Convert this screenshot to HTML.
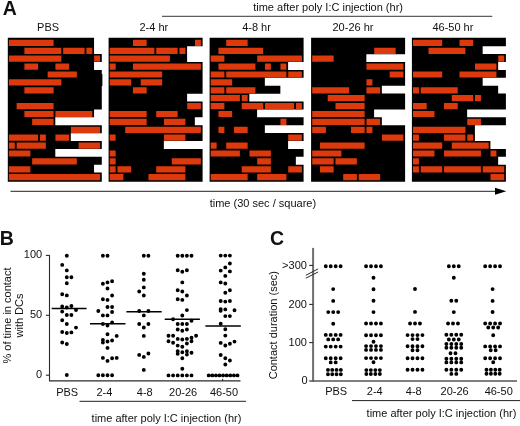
<!DOCTYPE html>
<html><head><meta charset="utf-8"><title>Figure</title>
<style>
html,body{margin:0;padding:0;background:#fff}
svg{display:block}
text{font-family:'Liberation Sans', sans-serif;fill:#111}
</style></head><body>
<svg width="520" height="426" viewBox="0 0 520 426">
<rect width="520" height="426" fill="#fff"/>
<path fill="#000" d="M7.8 37.8h86.25v8.45h-86.25zM7.8 46.2h86.25v7.95h-86.25zM7.8 54.1h94v7.95h-94zM7.8 62h86.25v7.95h-86.25zM7.8 69.9h94v7.95h-94zM7.8 77.8h94v7.95h-94zM7.8 85.7h94v7.95h-94zM7.8 93.6h94v7.95h-94zM7.8 101.5h94v7.95h-94zM7.8 109.4h86.25v7.95h-86.25zM7.8 117.3h47.5v7.95h-47.5zM7.8 125.2h94v7.95h-94zM7.8 133.1h63v7.95h-63zM7.8 141h94v7.95h-94zM7.8 148.9h47.5v7.95h-47.5zM7.8 156.8h94v7.95h-94zM7.8 164.7h86.25v7.95h-86.25zM7.8 172.6h94v9.15h-94zM108.6 37.8h94v8.45h-94zM108.6 46.2h78.5v7.95h-78.5zM108.6 54.1h78.5v7.95h-78.5zM108.6 62h94v7.95h-94zM108.6 69.9h94v7.95h-94zM108.6 77.8h94v7.95h-94zM108.6 85.7h94v7.95h-94zM108.6 93.6h78.5v7.95h-78.5zM108.6 101.5h94v7.95h-94zM108.6 109.4h94v7.95h-94zM108.6 117.3h86.25v7.95h-86.25zM108.6 125.2h94v7.95h-94zM108.6 133.1h94v7.95h-94zM108.6 141h55.25v7.95h-55.25zM108.6 148.9h94v7.95h-94zM108.6 156.8h94v7.95h-94zM108.6 164.7h94v7.95h-94zM108.6 172.6h94v9.15h-94zM209.6 37.8h94v8.45h-94zM209.6 46.2h94v7.95h-94zM209.6 54.1h94v7.95h-94zM209.6 62h78.5v7.95h-78.5zM209.6 69.9h94v7.95h-94zM209.6 77.8h55.25v7.95h-55.25zM209.6 85.7h70.75v7.95h-70.75zM209.6 93.6h39.75v7.95h-39.75zM209.6 101.5h94v7.95h-94zM209.6 109.4h47.5v7.95h-47.5zM209.6 117.3h94v7.95h-94zM209.6 125.2h55.25v7.95h-55.25zM209.6 133.1h94v7.95h-94zM209.6 141h78.5v7.95h-78.5zM209.6 148.9h94v7.95h-94zM209.6 156.8h86.25v7.95h-86.25zM209.6 164.7h94v7.95h-94zM209.6 172.6h94v9.15h-94zM311.1 37.8h94v8.45h-94zM311.1 46.2h94v7.95h-94zM311.1 54.1h55.25v7.95h-55.25zM311.1 62h94v7.95h-94zM311.1 69.9h94v7.95h-94zM311.1 77.8h94v7.95h-94zM311.1 85.7h70.75v7.95h-70.75zM311.1 93.6h94v7.95h-94zM311.1 101.5h94v7.95h-94zM311.1 109.4h63v7.95h-63zM311.1 117.3h70.75v7.95h-70.75zM311.1 125.2h94v7.95h-94zM311.1 133.1h94v7.95h-94zM311.1 141h94v7.95h-94zM311.1 148.9h94v7.95h-94zM311.1 156.8h94v7.95h-94zM311.1 164.7h94v7.95h-94zM311.1 172.6h94v9.15h-94zM411.9 37.8h94v8.45h-94zM411.9 46.2h70.75v7.95h-70.75zM411.9 54.1h94v7.95h-94zM411.9 62h86.25v7.95h-86.25zM411.9 69.9h94v7.95h-94zM411.9 77.8h70.75v7.95h-70.75zM411.9 85.7h86.25v7.95h-86.25zM411.9 93.6h94v7.95h-94zM411.9 101.5h94v7.95h-94zM411.9 109.4h55.25v7.95h-55.25zM411.9 117.3h94v7.95h-94zM411.9 125.2h63v7.95h-63zM411.9 133.1h63v7.95h-63zM411.9 141h78.5v7.95h-78.5zM411.9 148.9h94v7.95h-94zM411.9 156.8h86.25v7.95h-86.25zM411.9 164.7h94v7.95h-94zM411.9 172.6h94v9.15h-94zM101.4 74h1v12h-1z"/>
<path fill="#dc390c" d="M8.9 39.8h44.7v6.2h-44.7zM24.4 47.7h36.95v6.2h-36.95zM63.15 47.7h21.45v6.2h-21.45zM86.4 47.7h5.95v6.2h-5.95zM8.9 55.6h52.45v6.2h-52.45zM94.15 55.6h5.95v6.2h-5.95zM24.4 63.5h13.7v6.2h-13.7zM55.4 63.5h13.7v6.2h-13.7zM47.65 71.4h29.2v6.2h-29.2zM8.9 79.3h52.45v6.2h-52.45zM24.4 87.2h29.2v6.2h-29.2zM16.65 103h36.95v6.2h-36.95zM24.4 110.9h29.2v6.2h-29.2zM55.4 110.9h36.95v6.2h-36.95zM32.15 118.8h21.45v6.2h-21.45zM70.9 126.7h29.2v6.2h-29.2zM8.9 134.6h29.2v6.2h-29.2zM39.9 134.6h5.95v6.2h-5.95zM55.4 134.6h13.7v6.2h-13.7zM8.9 142.5h5.95v6.2h-5.95zM16.65 142.5h29.2v6.2h-29.2zM78.65 142.5h21.45v6.2h-21.45zM8.9 150.4h21.45v6.2h-21.45zM32.15 158.3h44.7v6.2h-44.7zM8.9 166.2h21.45v6.2h-21.45zM8.9 174.1h91.2v6.2h-91.2zM132.95 39.8h13.7v6.2h-13.7zM194.95 39.8h5.95v6.2h-5.95zM109.7 47.7h44.7v6.2h-44.7zM156.2 47.7h21.45v6.2h-21.45zM179.45 47.7h5.95v6.2h-5.95zM109.7 55.6h60.2v6.2h-60.2zM109.7 63.5h5.95v6.2h-5.95zM132.95 63.5h67.95v6.2h-67.95zM109.7 71.4h52.45v6.2h-52.45zM109.7 79.3h21.45v6.2h-21.45zM140.7 79.3h21.45v6.2h-21.45zM132.95 87.2h13.7v6.2h-13.7zM187.2 103h13.7v6.2h-13.7zM109.7 110.9h36.95v6.2h-36.95zM156.2 110.9h21.45v6.2h-21.45zM109.7 118.8h36.95v6.2h-36.95zM163.95 118.8h21.45v6.2h-21.45zM125.2 126.7h75.7v6.2h-75.7zM109.7 134.6h5.95v6.2h-5.95zM163.95 134.6h21.45v6.2h-21.45zM109.7 150.4h5.95v6.2h-5.95zM109.7 158.3h5.95v6.2h-5.95zM171.7 158.3h29.2v6.2h-29.2zM109.7 166.2h5.95v6.2h-5.95zM117.45 166.2h13.7v6.2h-13.7zM156.2 166.2h29.2v6.2h-29.2zM109.7 174.1h13.7v6.2h-13.7zM148.45 174.1h36.95v6.2h-36.95zM226.2 39.8h21.45v6.2h-21.45zM218.45 47.7h44.7v6.2h-44.7zM210.7 55.6h13.7v6.2h-13.7zM257.2 55.6h44.7v6.2h-44.7zM218.45 63.5h36.95v6.2h-36.95zM264.95 63.5h5.95v6.2h-5.95zM280.45 63.5h5.95v6.2h-5.95zM210.7 71.4h13.7v6.2h-13.7zM226.2 71.4h60.2v6.2h-60.2zM288.2 71.4h13.7v6.2h-13.7zM210.7 79.3h21.45v6.2h-21.45zM210.7 87.2h13.7v6.2h-13.7zM226.2 87.2h29.2v6.2h-29.2zM210.7 95.1h29.2v6.2h-29.2zM241.7 95.1h5.95v6.2h-5.95zM210.7 103h13.7v6.2h-13.7zM241.7 103h21.45v6.2h-21.45zM264.95 103h29.2v6.2h-29.2zM295.95 103h5.95v6.2h-5.95zM218.45 110.9h13.7v6.2h-13.7zM280.45 118.8h5.95v6.2h-5.95zM218.45 126.7h5.95v6.2h-5.95zM233.95 126.7h13.7v6.2h-13.7zM288.2 134.6h13.7v6.2h-13.7zM210.7 142.5h5.95v6.2h-5.95zM226.2 142.5h21.45v6.2h-21.45zM210.7 150.4h29.2v6.2h-29.2zM249.45 150.4h21.45v6.2h-21.45zM257.2 158.3h13.7v6.2h-13.7zM241.7 166.2h29.2v6.2h-29.2zM288.2 166.2h13.7v6.2h-13.7zM210.7 174.1h36.95v6.2h-36.95zM257.2 174.1h29.2v6.2h-29.2zM374.2 47.7h21.45v6.2h-21.45zM312.2 55.6h21.45v6.2h-21.45zM366.45 63.5h36.95v6.2h-36.95zM389.7 71.4h13.7v6.2h-13.7zM366.45 79.3h5.95v6.2h-5.95zM312.2 87.2h36.95v6.2h-36.95zM366.45 87.2h13.7v6.2h-13.7zM327.7 95.1h36.95v6.2h-36.95zM335.45 103h29.2v6.2h-29.2zM312.2 110.9h52.45v6.2h-52.45zM312.2 118.8h52.45v6.2h-52.45zM366.45 118.8h13.7v6.2h-13.7zM312.2 126.7h13.7v6.2h-13.7zM350.95 126.7h13.7v6.2h-13.7zM366.45 126.7h5.95v6.2h-5.95zM381.95 134.6h21.45v6.2h-21.45zM319.95 142.5h44.7v6.2h-44.7zM312.2 150.4h29.2v6.2h-29.2zM312.2 158.3h21.45v6.2h-21.45zM335.45 158.3h21.45v6.2h-21.45zM319.95 166.2h13.7v6.2h-13.7zM343.2 174.1h13.7v6.2h-13.7zM358.7 174.1h21.45v6.2h-21.45zM413 39.8h29.2v6.2h-29.2zM459.5 39.8h13.7v6.2h-13.7zM428.5 47.7h36.95v6.2h-36.95zM498.25 55.6h5.95v6.2h-5.95zM475 63.5h21.45v6.2h-21.45zM413 71.4h29.2v6.2h-29.2zM459.5 71.4h36.95v6.2h-36.95zM413 87.2h5.95v6.2h-5.95zM420.75 87.2h36.95v6.2h-36.95zM451.75 95.1h21.45v6.2h-21.45zM475 95.1h5.95v6.2h-5.95zM413 103h13.7v6.2h-13.7zM444 103h13.7v6.2h-13.7zM413 110.9h21.45v6.2h-21.45zM467.25 118.8h13.7v6.2h-13.7zM413 126.7h52.45v6.2h-52.45zM413 134.6h5.95v6.2h-5.95zM444 134.6h21.45v6.2h-21.45zM467.25 134.6h5.95v6.2h-5.95zM413 142.5h29.2v6.2h-29.2zM451.75 142.5h36.95v6.2h-36.95zM413 150.4h21.45v6.2h-21.45zM444 150.4h36.95v6.2h-36.95zM490.5 150.4h5.95v6.2h-5.95zM413 158.3h5.95v6.2h-5.95zM413 166.2h5.95v6.2h-5.95zM420.75 166.2h21.45v6.2h-21.45zM444 166.2h36.95v6.2h-36.95zM482.75 166.2h21.45v6.2h-21.45zM490.5 174.1h13.7v6.2h-13.7z"/>
<text x="2.7" y="14.8" font-size="19.5" text-anchor="start" font-weight="bold">A</text>
<text x="328.1" y="10.6" font-size="11" text-anchor="middle">time after poly I:C injection (hr)</text>
<path d="M162 16.3L492.3 16.3" stroke="#2a2a2a" stroke-width="0.95" fill="none"/>
<text x="48.1" y="30.6" font-size="11" text-anchor="middle">PBS</text>
<text x="153.8" y="30.6" font-size="11" text-anchor="middle">2-4 hr</text>
<text x="256.5" y="30.6" font-size="11" text-anchor="middle">4-8 hr</text>
<text x="353" y="30.6" font-size="11" text-anchor="middle">20-26 hr</text>
<text x="452.9" y="30.6" font-size="11" text-anchor="middle">46-50 hr</text>
<path d="M10.5 191.3L497 191.3" stroke="#222" stroke-width="1" fill="none"/>
<path d="M495 187.8L506.3 191.3L495 194.8z" fill="#000"/>
<text x="262.9" y="206.8" font-size="11" text-anchor="middle">time (30 sec / square)</text>
<text x="-0.3" y="244.9" font-size="19.5" text-anchor="start" font-weight="bold">B</text>
<path d="M49.5 254.9V380.9H240.5" stroke="#2a2a2a" stroke-width="1.1" fill="none"/>
<path d="M45.9 255.4L49.5 255.4" stroke="#2a2a2a" stroke-width="1.1" fill="none"/>
<text x="42.2" y="258.4" font-size="11" text-anchor="end">100</text>
<path d="M45.9 315.3L49.5 315.3" stroke="#2a2a2a" stroke-width="1.1" fill="none"/>
<text x="42.2" y="318.3" font-size="11" text-anchor="end">50</text>
<path d="M45.9 375.2L49.5 375.2" stroke="#2a2a2a" stroke-width="1.1" fill="none"/>
<text x="42.2" y="378.2" font-size="11" text-anchor="end">0</text>
<path d="M222.7 378.8L222.7 381" stroke="#222" stroke-width="1" fill="none"/>
<text x="67.2" y="395.7" font-size="11" text-anchor="middle">PBS</text>
<text x="104.4" y="395.7" font-size="11" text-anchor="middle">2-4</text>
<text x="144.8" y="395.7" font-size="11" text-anchor="middle">4-8</text>
<text x="183.1" y="395.7" font-size="11" text-anchor="middle">20-26</text>
<text x="224" y="395.7" font-size="11" text-anchor="middle">46-50</text>
<path d="M79.5 401.3L246 401.3" stroke="#222" stroke-width="1" fill="none"/>
<text x="166.5" y="422" font-size="11" text-anchor="middle">time after poly I:C injection (hr)</text>
<text transform="translate(11.2 315.5) rotate(-90)" font-size="11" text-anchor="middle">% of time in contact</text>
<text transform="translate(23.4 315.5) rotate(-90)" font-size="11" text-anchor="middle">with DCs</text>
<path d="M51.7 308.6L86.6 308.6" stroke="#000" stroke-width="1.5" fill="none"/>
<path d="M90 323.7L125.5 323.7" stroke="#000" stroke-width="1.5" fill="none"/>
<path d="M126.4 311.7L161.7 311.7" stroke="#000" stroke-width="1.5" fill="none"/>
<path d="M164.7 319.2L199.9 319.2" stroke="#000" stroke-width="1.5" fill="none"/>
<path d="M205.4 326L240.8 326" stroke="#000" stroke-width="1.5" fill="none"/>
<path fill="#000" d="M64.85 255.8a1.95 1.95 0 1 0 3.9 0a1.95 1.95 0 1 0 -3.9 0zM60.25 264.9a1.95 1.95 0 1 0 3.9 0a1.95 1.95 0 1 0 -3.9 0zM64.85 270.4a1.95 1.95 0 1 0 3.9 0a1.95 1.95 0 1 0 -3.9 0zM64.85 277.2a1.95 1.95 0 1 0 3.9 0a1.95 1.95 0 1 0 -3.9 0zM69.45 277.2a1.95 1.95 0 1 0 3.9 0a1.95 1.95 0 1 0 -3.9 0zM64.85 283.3a1.95 1.95 0 1 0 3.9 0a1.95 1.95 0 1 0 -3.9 0zM60.25 294.2a1.95 1.95 0 1 0 3.9 0a1.95 1.95 0 1 0 -3.9 0zM64.85 295.4a1.95 1.95 0 1 0 3.9 0a1.95 1.95 0 1 0 -3.9 0zM60.25 306.4a1.95 1.95 0 1 0 3.9 0a1.95 1.95 0 1 0 -3.9 0zM64.85 307.5a1.95 1.95 0 1 0 3.9 0a1.95 1.95 0 1 0 -3.9 0zM69.45 306a1.95 1.95 0 1 0 3.9 0a1.95 1.95 0 1 0 -3.9 0zM74.05 310.1a1.95 1.95 0 1 0 3.9 0a1.95 1.95 0 1 0 -3.9 0zM60.25 311.6a1.95 1.95 0 1 0 3.9 0a1.95 1.95 0 1 0 -3.9 0zM64.85 315a1.95 1.95 0 1 0 3.9 0a1.95 1.95 0 1 0 -3.9 0zM69.45 315a1.95 1.95 0 1 0 3.9 0a1.95 1.95 0 1 0 -3.9 0zM60.25 320.2a1.95 1.95 0 1 0 3.9 0a1.95 1.95 0 1 0 -3.9 0zM64.85 324a1.95 1.95 0 1 0 3.9 0a1.95 1.95 0 1 0 -3.9 0zM74.05 327.6a1.95 1.95 0 1 0 3.9 0a1.95 1.95 0 1 0 -3.9 0zM60.25 332a1.95 1.95 0 1 0 3.9 0a1.95 1.95 0 1 0 -3.9 0zM64.85 333a1.95 1.95 0 1 0 3.9 0a1.95 1.95 0 1 0 -3.9 0zM69.45 332.4a1.95 1.95 0 1 0 3.9 0a1.95 1.95 0 1 0 -3.9 0zM60.25 342.5a1.95 1.95 0 1 0 3.9 0a1.95 1.95 0 1 0 -3.9 0zM64.85 344a1.95 1.95 0 1 0 3.9 0a1.95 1.95 0 1 0 -3.9 0zM64.85 375a1.95 1.95 0 1 0 3.9 0a1.95 1.95 0 1 0 -3.9 0zM100.95 255.8a1.95 1.95 0 1 0 3.9 0a1.95 1.95 0 1 0 -3.9 0zM105.55 255.8a1.95 1.95 0 1 0 3.9 0a1.95 1.95 0 1 0 -3.9 0zM100.95 283.7a1.95 1.95 0 1 0 3.9 0a1.95 1.95 0 1 0 -3.9 0zM105.55 282.4a1.95 1.95 0 1 0 3.9 0a1.95 1.95 0 1 0 -3.9 0zM110.15 281.3a1.95 1.95 0 1 0 3.9 0a1.95 1.95 0 1 0 -3.9 0zM105.55 288.5a1.95 1.95 0 1 0 3.9 0a1.95 1.95 0 1 0 -3.9 0zM110.15 295.5a1.95 1.95 0 1 0 3.9 0a1.95 1.95 0 1 0 -3.9 0zM100.95 299.2a1.95 1.95 0 1 0 3.9 0a1.95 1.95 0 1 0 -3.9 0zM105.55 299.9a1.95 1.95 0 1 0 3.9 0a1.95 1.95 0 1 0 -3.9 0zM105.55 307a1.95 1.95 0 1 0 3.9 0a1.95 1.95 0 1 0 -3.9 0zM110.15 307a1.95 1.95 0 1 0 3.9 0a1.95 1.95 0 1 0 -3.9 0zM96.35 311a1.95 1.95 0 1 0 3.9 0a1.95 1.95 0 1 0 -3.9 0zM110.15 312a1.95 1.95 0 1 0 3.9 0a1.95 1.95 0 1 0 -3.9 0zM100.95 315.4a1.95 1.95 0 1 0 3.9 0a1.95 1.95 0 1 0 -3.9 0zM105.55 315.4a1.95 1.95 0 1 0 3.9 0a1.95 1.95 0 1 0 -3.9 0zM100.95 324a1.95 1.95 0 1 0 3.9 0a1.95 1.95 0 1 0 -3.9 0zM105.55 325.5a1.95 1.95 0 1 0 3.9 0a1.95 1.95 0 1 0 -3.9 0zM110.15 322.4a1.95 1.95 0 1 0 3.9 0a1.95 1.95 0 1 0 -3.9 0zM105.55 334.3a1.95 1.95 0 1 0 3.9 0a1.95 1.95 0 1 0 -3.9 0zM114.75 335.9a1.95 1.95 0 1 0 3.9 0a1.95 1.95 0 1 0 -3.9 0zM100.95 340a1.95 1.95 0 1 0 3.9 0a1.95 1.95 0 1 0 -3.9 0zM100.95 342.5a1.95 1.95 0 1 0 3.9 0a1.95 1.95 0 1 0 -3.9 0zM105.55 341.5a1.95 1.95 0 1 0 3.9 0a1.95 1.95 0 1 0 -3.9 0zM110.15 340.5a1.95 1.95 0 1 0 3.9 0a1.95 1.95 0 1 0 -3.9 0zM105.55 347.9a1.95 1.95 0 1 0 3.9 0a1.95 1.95 0 1 0 -3.9 0zM100.95 357.9a1.95 1.95 0 1 0 3.9 0a1.95 1.95 0 1 0 -3.9 0zM105.55 360.9a1.95 1.95 0 1 0 3.9 0a1.95 1.95 0 1 0 -3.9 0zM110.15 358.3a1.95 1.95 0 1 0 3.9 0a1.95 1.95 0 1 0 -3.9 0zM114.75 357.9a1.95 1.95 0 1 0 3.9 0a1.95 1.95 0 1 0 -3.9 0zM96.35 375.2a1.95 1.95 0 1 0 3.9 0a1.95 1.95 0 1 0 -3.9 0zM100.95 375.2a1.95 1.95 0 1 0 3.9 0a1.95 1.95 0 1 0 -3.9 0zM105.55 375.2a1.95 1.95 0 1 0 3.9 0a1.95 1.95 0 1 0 -3.9 0zM110.15 375.2a1.95 1.95 0 1 0 3.9 0a1.95 1.95 0 1 0 -3.9 0zM141.85 255.8a1.95 1.95 0 1 0 3.9 0a1.95 1.95 0 1 0 -3.9 0zM146.45 255.8a1.95 1.95 0 1 0 3.9 0a1.95 1.95 0 1 0 -3.9 0zM141.85 273.7a1.95 1.95 0 1 0 3.9 0a1.95 1.95 0 1 0 -3.9 0zM141.85 279.8a1.95 1.95 0 1 0 3.9 0a1.95 1.95 0 1 0 -3.9 0zM141.85 287.4a1.95 1.95 0 1 0 3.9 0a1.95 1.95 0 1 0 -3.9 0zM137.25 291.5a1.95 1.95 0 1 0 3.9 0a1.95 1.95 0 1 0 -3.9 0zM141.85 295.5a1.95 1.95 0 1 0 3.9 0a1.95 1.95 0 1 0 -3.9 0zM137.25 311a1.95 1.95 0 1 0 3.9 0a1.95 1.95 0 1 0 -3.9 0zM146.45 311a1.95 1.95 0 1 0 3.9 0a1.95 1.95 0 1 0 -3.9 0zM141.85 315.4a1.95 1.95 0 1 0 3.9 0a1.95 1.95 0 1 0 -3.9 0zM137.25 324a1.95 1.95 0 1 0 3.9 0a1.95 1.95 0 1 0 -3.9 0zM146.45 324a1.95 1.95 0 1 0 3.9 0a1.95 1.95 0 1 0 -3.9 0zM141.85 327.5a1.95 1.95 0 1 0 3.9 0a1.95 1.95 0 1 0 -3.9 0zM141.85 335.9a1.95 1.95 0 1 0 3.9 0a1.95 1.95 0 1 0 -3.9 0zM137.25 354.9a1.95 1.95 0 1 0 3.9 0a1.95 1.95 0 1 0 -3.9 0zM141.85 356.9a1.95 1.95 0 1 0 3.9 0a1.95 1.95 0 1 0 -3.9 0zM146.45 353.5a1.95 1.95 0 1 0 3.9 0a1.95 1.95 0 1 0 -3.9 0zM141.85 369.9a1.95 1.95 0 1 0 3.9 0a1.95 1.95 0 1 0 -3.9 0zM175.75 255.8a1.95 1.95 0 1 0 3.9 0a1.95 1.95 0 1 0 -3.9 0zM180.35 255.8a1.95 1.95 0 1 0 3.9 0a1.95 1.95 0 1 0 -3.9 0zM184.95 255.8a1.95 1.95 0 1 0 3.9 0a1.95 1.95 0 1 0 -3.9 0zM189.55 255.8a1.95 1.95 0 1 0 3.9 0a1.95 1.95 0 1 0 -3.9 0zM175.75 270.3a1.95 1.95 0 1 0 3.9 0a1.95 1.95 0 1 0 -3.9 0zM180.35 271.8a1.95 1.95 0 1 0 3.9 0a1.95 1.95 0 1 0 -3.9 0zM184.95 270.3a1.95 1.95 0 1 0 3.9 0a1.95 1.95 0 1 0 -3.9 0zM180.35 282.4a1.95 1.95 0 1 0 3.9 0a1.95 1.95 0 1 0 -3.9 0zM175.75 290.2a1.95 1.95 0 1 0 3.9 0a1.95 1.95 0 1 0 -3.9 0zM180.35 291.5a1.95 1.95 0 1 0 3.9 0a1.95 1.95 0 1 0 -3.9 0zM184.95 295.5a1.95 1.95 0 1 0 3.9 0a1.95 1.95 0 1 0 -3.9 0zM175.75 299.3a1.95 1.95 0 1 0 3.9 0a1.95 1.95 0 1 0 -3.9 0zM180.35 299.9a1.95 1.95 0 1 0 3.9 0a1.95 1.95 0 1 0 -3.9 0zM184.95 310.1a1.95 1.95 0 1 0 3.9 0a1.95 1.95 0 1 0 -3.9 0zM180.35 315.5a1.95 1.95 0 1 0 3.9 0a1.95 1.95 0 1 0 -3.9 0zM171.15 319.2a1.95 1.95 0 1 0 3.9 0a1.95 1.95 0 1 0 -3.9 0zM189.55 320.7a1.95 1.95 0 1 0 3.9 0a1.95 1.95 0 1 0 -3.9 0zM175.75 324a1.95 1.95 0 1 0 3.9 0a1.95 1.95 0 1 0 -3.9 0zM180.35 324a1.95 1.95 0 1 0 3.9 0a1.95 1.95 0 1 0 -3.9 0zM184.95 324a1.95 1.95 0 1 0 3.9 0a1.95 1.95 0 1 0 -3.9 0zM175.75 329.5a1.95 1.95 0 1 0 3.9 0a1.95 1.95 0 1 0 -3.9 0zM180.35 330.8a1.95 1.95 0 1 0 3.9 0a1.95 1.95 0 1 0 -3.9 0zM184.95 329.5a1.95 1.95 0 1 0 3.9 0a1.95 1.95 0 1 0 -3.9 0zM166.55 335.7a1.95 1.95 0 1 0 3.9 0a1.95 1.95 0 1 0 -3.9 0zM171.15 335.7a1.95 1.95 0 1 0 3.9 0a1.95 1.95 0 1 0 -3.9 0zM194.15 335.7a1.95 1.95 0 1 0 3.9 0a1.95 1.95 0 1 0 -3.9 0zM189.55 337.8a1.95 1.95 0 1 0 3.9 0a1.95 1.95 0 1 0 -3.9 0zM175.75 338.9a1.95 1.95 0 1 0 3.9 0a1.95 1.95 0 1 0 -3.9 0zM180.35 339.5a1.95 1.95 0 1 0 3.9 0a1.95 1.95 0 1 0 -3.9 0zM184.95 338.9a1.95 1.95 0 1 0 3.9 0a1.95 1.95 0 1 0 -3.9 0zM166.55 341.2a1.95 1.95 0 1 0 3.9 0a1.95 1.95 0 1 0 -3.9 0zM189.55 341.2a1.95 1.95 0 1 0 3.9 0a1.95 1.95 0 1 0 -3.9 0zM171.15 342.8a1.95 1.95 0 1 0 3.9 0a1.95 1.95 0 1 0 -3.9 0zM184.95 343.5a1.95 1.95 0 1 0 3.9 0a1.95 1.95 0 1 0 -3.9 0zM175.75 345.6a1.95 1.95 0 1 0 3.9 0a1.95 1.95 0 1 0 -3.9 0zM180.35 346.7a1.95 1.95 0 1 0 3.9 0a1.95 1.95 0 1 0 -3.9 0zM175.75 351.2a1.95 1.95 0 1 0 3.9 0a1.95 1.95 0 1 0 -3.9 0zM175.75 353.8a1.95 1.95 0 1 0 3.9 0a1.95 1.95 0 1 0 -3.9 0zM180.35 352.3a1.95 1.95 0 1 0 3.9 0a1.95 1.95 0 1 0 -3.9 0zM184.95 351.2a1.95 1.95 0 1 0 3.9 0a1.95 1.95 0 1 0 -3.9 0zM184.95 354.6a1.95 1.95 0 1 0 3.9 0a1.95 1.95 0 1 0 -3.9 0zM189.55 352.7a1.95 1.95 0 1 0 3.9 0a1.95 1.95 0 1 0 -3.9 0zM180.35 358.3a1.95 1.95 0 1 0 3.9 0a1.95 1.95 0 1 0 -3.9 0zM180.35 368.7a1.95 1.95 0 1 0 3.9 0a1.95 1.95 0 1 0 -3.9 0zM166.55 375.4a1.95 1.95 0 1 0 3.9 0a1.95 1.95 0 1 0 -3.9 0zM171.15 375.4a1.95 1.95 0 1 0 3.9 0a1.95 1.95 0 1 0 -3.9 0zM175.75 375.4a1.95 1.95 0 1 0 3.9 0a1.95 1.95 0 1 0 -3.9 0zM180.35 375.4a1.95 1.95 0 1 0 3.9 0a1.95 1.95 0 1 0 -3.9 0zM184.95 375.4a1.95 1.95 0 1 0 3.9 0a1.95 1.95 0 1 0 -3.9 0zM189.55 375.4a1.95 1.95 0 1 0 3.9 0a1.95 1.95 0 1 0 -3.9 0zM218.75 255.6a1.95 1.95 0 1 0 3.9 0a1.95 1.95 0 1 0 -3.9 0zM223.35 255.6a1.95 1.95 0 1 0 3.9 0a1.95 1.95 0 1 0 -3.9 0zM227.95 255.6a1.95 1.95 0 1 0 3.9 0a1.95 1.95 0 1 0 -3.9 0zM227.95 263.5a1.95 1.95 0 1 0 3.9 0a1.95 1.95 0 1 0 -3.9 0zM223.35 267.4a1.95 1.95 0 1 0 3.9 0a1.95 1.95 0 1 0 -3.9 0zM218.75 270.6a1.95 1.95 0 1 0 3.9 0a1.95 1.95 0 1 0 -3.9 0zM227.95 271.4a1.95 1.95 0 1 0 3.9 0a1.95 1.95 0 1 0 -3.9 0zM223.35 275.9a1.95 1.95 0 1 0 3.9 0a1.95 1.95 0 1 0 -3.9 0zM218.75 282.4a1.95 1.95 0 1 0 3.9 0a1.95 1.95 0 1 0 -3.9 0zM223.35 283.5a1.95 1.95 0 1 0 3.9 0a1.95 1.95 0 1 0 -3.9 0zM227.95 290.2a1.95 1.95 0 1 0 3.9 0a1.95 1.95 0 1 0 -3.9 0zM223.35 292.8a1.95 1.95 0 1 0 3.9 0a1.95 1.95 0 1 0 -3.9 0zM218.75 301a1.95 1.95 0 1 0 3.9 0a1.95 1.95 0 1 0 -3.9 0zM223.35 301.6a1.95 1.95 0 1 0 3.9 0a1.95 1.95 0 1 0 -3.9 0zM227.95 301a1.95 1.95 0 1 0 3.9 0a1.95 1.95 0 1 0 -3.9 0zM218.75 309.3a1.95 1.95 0 1 0 3.9 0a1.95 1.95 0 1 0 -3.9 0zM218.75 310.8a1.95 1.95 0 1 0 3.9 0a1.95 1.95 0 1 0 -3.9 0zM223.35 309.4a1.95 1.95 0 1 0 3.9 0a1.95 1.95 0 1 0 -3.9 0zM232.55 310.3a1.95 1.95 0 1 0 3.9 0a1.95 1.95 0 1 0 -3.9 0zM223.35 316.1a1.95 1.95 0 1 0 3.9 0a1.95 1.95 0 1 0 -3.9 0zM227.95 316.1a1.95 1.95 0 1 0 3.9 0a1.95 1.95 0 1 0 -3.9 0zM218.75 323.8a1.95 1.95 0 1 0 3.9 0a1.95 1.95 0 1 0 -3.9 0zM223.35 329.2a1.95 1.95 0 1 0 3.9 0a1.95 1.95 0 1 0 -3.9 0zM223.35 335.6a1.95 1.95 0 1 0 3.9 0a1.95 1.95 0 1 0 -3.9 0zM232.55 341.6a1.95 1.95 0 1 0 3.9 0a1.95 1.95 0 1 0 -3.9 0zM218.75 342.9a1.95 1.95 0 1 0 3.9 0a1.95 1.95 0 1 0 -3.9 0zM227.95 343.8a1.95 1.95 0 1 0 3.9 0a1.95 1.95 0 1 0 -3.9 0zM223.35 345.5a1.95 1.95 0 1 0 3.9 0a1.95 1.95 0 1 0 -3.9 0zM218.75 355a1.95 1.95 0 1 0 3.9 0a1.95 1.95 0 1 0 -3.9 0zM223.35 358.2a1.95 1.95 0 1 0 3.9 0a1.95 1.95 0 1 0 -3.9 0zM227.95 360.5a1.95 1.95 0 1 0 3.9 0a1.95 1.95 0 1 0 -3.9 0zM223.35 364.5a1.95 1.95 0 1 0 3.9 0a1.95 1.95 0 1 0 -3.9 0zM206.75 375.4a1.95 1.95 0 1 0 3.9 0a1.95 1.95 0 1 0 -3.9 0zM210.35 375.4a1.95 1.95 0 1 0 3.9 0a1.95 1.95 0 1 0 -3.9 0zM213.95 375.4a1.95 1.95 0 1 0 3.9 0a1.95 1.95 0 1 0 -3.9 0zM217.55 375.4a1.95 1.95 0 1 0 3.9 0a1.95 1.95 0 1 0 -3.9 0zM221.15 375.4a1.95 1.95 0 1 0 3.9 0a1.95 1.95 0 1 0 -3.9 0zM224.75 375.4a1.95 1.95 0 1 0 3.9 0a1.95 1.95 0 1 0 -3.9 0zM228.35 375.4a1.95 1.95 0 1 0 3.9 0a1.95 1.95 0 1 0 -3.9 0zM231.95 375.4a1.95 1.95 0 1 0 3.9 0a1.95 1.95 0 1 0 -3.9 0zM235.55 375.4a1.95 1.95 0 1 0 3.9 0a1.95 1.95 0 1 0 -3.9 0z"/>
<text x="269.9" y="245.3" font-size="19.5" text-anchor="start" font-weight="bold">C</text>
<path d="M313.1 247.9V381.6" stroke="#6e6e6e" stroke-width="2" fill="none"/>
<path d="M309.2 381H517" stroke="#555" stroke-width="1.4" fill="none"/>
<path d="M309.2 265.4L313.1 265.4" stroke="#2a2a2a" stroke-width="1.1" fill="none"/>
<text x="306.9" y="269.4" font-size="11" text-anchor="end">&gt;300</text>
<path d="M309.2 304.4L313.1 304.4" stroke="#2a2a2a" stroke-width="1.1" fill="none"/>
<text x="306.9" y="307.8" font-size="11" text-anchor="end">200</text>
<path d="M309.2 342.6L313.1 342.6" stroke="#2a2a2a" stroke-width="1.1" fill="none"/>
<text x="306.9" y="346" font-size="11" text-anchor="end">100</text>
<text x="307.7" y="383.9" font-size="11" text-anchor="end">0</text>
<path d="M305.8 275.3L318.1 268.9" stroke="#2a2a2a" stroke-width="1" fill="none"/>
<path d="M305.8 278.2L318.1 272" stroke="#2a2a2a" stroke-width="1" fill="none"/>
<text x="336.2" y="394.9" font-size="11" text-anchor="middle">PBS</text>
<text x="374.8" y="394.9" font-size="11" text-anchor="middle">2-4</text>
<text x="413.8" y="394.9" font-size="11" text-anchor="middle">4-8</text>
<text x="454.6" y="394.9" font-size="11" text-anchor="middle">20-26</text>
<text x="498.7" y="394.9" font-size="11" text-anchor="middle">46-50</text>
<path d="M352 400.6L520 400.6" stroke="#222" stroke-width="1" fill="none"/>
<text x="441.5" y="417.3" font-size="11" text-anchor="middle">time after poly I:C injection (hr)</text>
<text transform="translate(277.3 325.2) rotate(-90)" font-size="11" text-anchor="middle">Contact duration (sec)</text>
<path fill="#000" d="M323.82 266.2a1.95 1.95 0 1 0 3.9 0a1.95 1.95 0 1 0 -3.9 0zM328.77 266.2a1.95 1.95 0 1 0 3.9 0a1.95 1.95 0 1 0 -3.9 0zM333.73 266.2a1.95 1.95 0 1 0 3.9 0a1.95 1.95 0 1 0 -3.9 0zM338.68 266.2a1.95 1.95 0 1 0 3.9 0a1.95 1.95 0 1 0 -3.9 0zM331.25 289.1a1.95 1.95 0 1 0 3.9 0a1.95 1.95 0 1 0 -3.9 0zM331.25 300.9a1.95 1.95 0 1 0 3.9 0a1.95 1.95 0 1 0 -3.9 0zM326.3 312.1a1.95 1.95 0 1 0 3.9 0a1.95 1.95 0 1 0 -3.9 0zM331.25 312.1a1.95 1.95 0 1 0 3.9 0a1.95 1.95 0 1 0 -3.9 0zM336.2 312.1a1.95 1.95 0 1 0 3.9 0a1.95 1.95 0 1 0 -3.9 0zM331.25 323.8a1.95 1.95 0 1 0 3.9 0a1.95 1.95 0 1 0 -3.9 0zM323.82 334.9a1.95 1.95 0 1 0 3.9 0a1.95 1.95 0 1 0 -3.9 0zM328.77 334.9a1.95 1.95 0 1 0 3.9 0a1.95 1.95 0 1 0 -3.9 0zM333.73 334.9a1.95 1.95 0 1 0 3.9 0a1.95 1.95 0 1 0 -3.9 0zM338.68 334.9a1.95 1.95 0 1 0 3.9 0a1.95 1.95 0 1 0 -3.9 0zM326.3 339.4a1.95 1.95 0 1 0 3.9 0a1.95 1.95 0 1 0 -3.9 0zM331.25 339.4a1.95 1.95 0 1 0 3.9 0a1.95 1.95 0 1 0 -3.9 0zM336.2 339.4a1.95 1.95 0 1 0 3.9 0a1.95 1.95 0 1 0 -3.9 0zM323.82 346.6a1.95 1.95 0 1 0 3.9 0a1.95 1.95 0 1 0 -3.9 0zM328.77 346.6a1.95 1.95 0 1 0 3.9 0a1.95 1.95 0 1 0 -3.9 0zM333.73 346.6a1.95 1.95 0 1 0 3.9 0a1.95 1.95 0 1 0 -3.9 0zM338.68 346.6a1.95 1.95 0 1 0 3.9 0a1.95 1.95 0 1 0 -3.9 0zM323.82 358.3a1.95 1.95 0 1 0 3.9 0a1.95 1.95 0 1 0 -3.9 0zM328.77 358.3a1.95 1.95 0 1 0 3.9 0a1.95 1.95 0 1 0 -3.9 0zM333.73 358.3a1.95 1.95 0 1 0 3.9 0a1.95 1.95 0 1 0 -3.9 0zM338.68 358.3a1.95 1.95 0 1 0 3.9 0a1.95 1.95 0 1 0 -3.9 0zM328.77 362.4a1.95 1.95 0 1 0 3.9 0a1.95 1.95 0 1 0 -3.9 0zM333.73 362.4a1.95 1.95 0 1 0 3.9 0a1.95 1.95 0 1 0 -3.9 0zM326 369.9a1.95 1.95 0 1 0 3.9 0a1.95 1.95 0 1 0 -3.9 0zM330.3 369.9a1.95 1.95 0 1 0 3.9 0a1.95 1.95 0 1 0 -3.9 0zM334.6 369.9a1.95 1.95 0 1 0 3.9 0a1.95 1.95 0 1 0 -3.9 0zM338.9 369.9a1.95 1.95 0 1 0 3.9 0a1.95 1.95 0 1 0 -3.9 0zM326 374.2a1.95 1.95 0 1 0 3.9 0a1.95 1.95 0 1 0 -3.9 0zM330.3 374.2a1.95 1.95 0 1 0 3.9 0a1.95 1.95 0 1 0 -3.9 0zM334.6 374.2a1.95 1.95 0 1 0 3.9 0a1.95 1.95 0 1 0 -3.9 0zM338.9 374.2a1.95 1.95 0 1 0 3.9 0a1.95 1.95 0 1 0 -3.9 0zM364.12 266.2a1.95 1.95 0 1 0 3.9 0a1.95 1.95 0 1 0 -3.9 0zM369.07 266.2a1.95 1.95 0 1 0 3.9 0a1.95 1.95 0 1 0 -3.9 0zM374.03 266.2a1.95 1.95 0 1 0 3.9 0a1.95 1.95 0 1 0 -3.9 0zM378.98 266.2a1.95 1.95 0 1 0 3.9 0a1.95 1.95 0 1 0 -3.9 0zM371.55 277.7a1.95 1.95 0 1 0 3.9 0a1.95 1.95 0 1 0 -3.9 0zM371.55 289.2a1.95 1.95 0 1 0 3.9 0a1.95 1.95 0 1 0 -3.9 0zM371.55 300.7a1.95 1.95 0 1 0 3.9 0a1.95 1.95 0 1 0 -3.9 0zM371.55 312.1a1.95 1.95 0 1 0 3.9 0a1.95 1.95 0 1 0 -3.9 0zM364.12 323.5a1.95 1.95 0 1 0 3.9 0a1.95 1.95 0 1 0 -3.9 0zM369.07 323.5a1.95 1.95 0 1 0 3.9 0a1.95 1.95 0 1 0 -3.9 0zM374.03 323.5a1.95 1.95 0 1 0 3.9 0a1.95 1.95 0 1 0 -3.9 0zM378.98 323.5a1.95 1.95 0 1 0 3.9 0a1.95 1.95 0 1 0 -3.9 0zM364.12 335.2a1.95 1.95 0 1 0 3.9 0a1.95 1.95 0 1 0 -3.9 0zM369.07 335.2a1.95 1.95 0 1 0 3.9 0a1.95 1.95 0 1 0 -3.9 0zM374.03 335.2a1.95 1.95 0 1 0 3.9 0a1.95 1.95 0 1 0 -3.9 0zM378.98 335.2a1.95 1.95 0 1 0 3.9 0a1.95 1.95 0 1 0 -3.9 0zM371.55 341.8a1.95 1.95 0 1 0 3.9 0a1.95 1.95 0 1 0 -3.9 0zM364.12 346.1a1.95 1.95 0 1 0 3.9 0a1.95 1.95 0 1 0 -3.9 0zM369.07 346.1a1.95 1.95 0 1 0 3.9 0a1.95 1.95 0 1 0 -3.9 0zM374.03 346.1a1.95 1.95 0 1 0 3.9 0a1.95 1.95 0 1 0 -3.9 0zM378.98 346.1a1.95 1.95 0 1 0 3.9 0a1.95 1.95 0 1 0 -3.9 0zM364.12 349.9a1.95 1.95 0 1 0 3.9 0a1.95 1.95 0 1 0 -3.9 0zM369.07 349.9a1.95 1.95 0 1 0 3.9 0a1.95 1.95 0 1 0 -3.9 0zM374.03 349.9a1.95 1.95 0 1 0 3.9 0a1.95 1.95 0 1 0 -3.9 0zM378.98 349.9a1.95 1.95 0 1 0 3.9 0a1.95 1.95 0 1 0 -3.9 0zM364.12 358.1a1.95 1.95 0 1 0 3.9 0a1.95 1.95 0 1 0 -3.9 0zM369.07 358.1a1.95 1.95 0 1 0 3.9 0a1.95 1.95 0 1 0 -3.9 0zM374.03 358.1a1.95 1.95 0 1 0 3.9 0a1.95 1.95 0 1 0 -3.9 0zM378.98 358.1a1.95 1.95 0 1 0 3.9 0a1.95 1.95 0 1 0 -3.9 0zM371.55 362.3a1.95 1.95 0 1 0 3.9 0a1.95 1.95 0 1 0 -3.9 0zM364.4 370.1a1.95 1.95 0 1 0 3.9 0a1.95 1.95 0 1 0 -3.9 0zM368.9 370.1a1.95 1.95 0 1 0 3.9 0a1.95 1.95 0 1 0 -3.9 0zM373.4 370.1a1.95 1.95 0 1 0 3.9 0a1.95 1.95 0 1 0 -3.9 0zM377.9 370.1a1.95 1.95 0 1 0 3.9 0a1.95 1.95 0 1 0 -3.9 0zM364.4 374a1.95 1.95 0 1 0 3.9 0a1.95 1.95 0 1 0 -3.9 0zM368.9 374a1.95 1.95 0 1 0 3.9 0a1.95 1.95 0 1 0 -3.9 0zM373.4 374a1.95 1.95 0 1 0 3.9 0a1.95 1.95 0 1 0 -3.9 0zM377.9 374a1.95 1.95 0 1 0 3.9 0a1.95 1.95 0 1 0 -3.9 0zM413.05 289a1.95 1.95 0 1 0 3.9 0a1.95 1.95 0 1 0 -3.9 0zM413.05 311.9a1.95 1.95 0 1 0 3.9 0a1.95 1.95 0 1 0 -3.9 0zM408.1 323.5a1.95 1.95 0 1 0 3.9 0a1.95 1.95 0 1 0 -3.9 0zM413.05 323.5a1.95 1.95 0 1 0 3.9 0a1.95 1.95 0 1 0 -3.9 0zM418 323.5a1.95 1.95 0 1 0 3.9 0a1.95 1.95 0 1 0 -3.9 0zM405.62 335.1a1.95 1.95 0 1 0 3.9 0a1.95 1.95 0 1 0 -3.9 0zM410.57 335.1a1.95 1.95 0 1 0 3.9 0a1.95 1.95 0 1 0 -3.9 0zM415.53 335.1a1.95 1.95 0 1 0 3.9 0a1.95 1.95 0 1 0 -3.9 0zM420.48 335.1a1.95 1.95 0 1 0 3.9 0a1.95 1.95 0 1 0 -3.9 0zM410.57 339.1a1.95 1.95 0 1 0 3.9 0a1.95 1.95 0 1 0 -3.9 0zM415.53 339.1a1.95 1.95 0 1 0 3.9 0a1.95 1.95 0 1 0 -3.9 0zM405.62 346.3a1.95 1.95 0 1 0 3.9 0a1.95 1.95 0 1 0 -3.9 0zM410.57 346.3a1.95 1.95 0 1 0 3.9 0a1.95 1.95 0 1 0 -3.9 0zM415.53 346.3a1.95 1.95 0 1 0 3.9 0a1.95 1.95 0 1 0 -3.9 0zM420.48 346.3a1.95 1.95 0 1 0 3.9 0a1.95 1.95 0 1 0 -3.9 0zM410.57 350.3a1.95 1.95 0 1 0 3.9 0a1.95 1.95 0 1 0 -3.9 0zM415.53 350.3a1.95 1.95 0 1 0 3.9 0a1.95 1.95 0 1 0 -3.9 0zM405.62 358.3a1.95 1.95 0 1 0 3.9 0a1.95 1.95 0 1 0 -3.9 0zM410.57 358.3a1.95 1.95 0 1 0 3.9 0a1.95 1.95 0 1 0 -3.9 0zM415.53 358.3a1.95 1.95 0 1 0 3.9 0a1.95 1.95 0 1 0 -3.9 0zM420.48 358.3a1.95 1.95 0 1 0 3.9 0a1.95 1.95 0 1 0 -3.9 0zM405.62 369.7a1.95 1.95 0 1 0 3.9 0a1.95 1.95 0 1 0 -3.9 0zM410.57 369.7a1.95 1.95 0 1 0 3.9 0a1.95 1.95 0 1 0 -3.9 0zM415.53 369.7a1.95 1.95 0 1 0 3.9 0a1.95 1.95 0 1 0 -3.9 0zM420.48 369.7a1.95 1.95 0 1 0 3.9 0a1.95 1.95 0 1 0 -3.9 0zM446.9 266.2a1.95 1.95 0 1 0 3.9 0a1.95 1.95 0 1 0 -3.9 0zM451.85 266.2a1.95 1.95 0 1 0 3.9 0a1.95 1.95 0 1 0 -3.9 0zM456.8 266.2a1.95 1.95 0 1 0 3.9 0a1.95 1.95 0 1 0 -3.9 0zM451.85 277.7a1.95 1.95 0 1 0 3.9 0a1.95 1.95 0 1 0 -3.9 0zM449.38 300.7a1.95 1.95 0 1 0 3.9 0a1.95 1.95 0 1 0 -3.9 0zM454.33 300.7a1.95 1.95 0 1 0 3.9 0a1.95 1.95 0 1 0 -3.9 0zM451.85 312.1a1.95 1.95 0 1 0 3.9 0a1.95 1.95 0 1 0 -3.9 0zM446.1 323.5a1.95 1.95 0 1 0 3.9 0a1.95 1.95 0 1 0 -3.9 0zM451.05 323.5a1.95 1.95 0 1 0 3.9 0a1.95 1.95 0 1 0 -3.9 0zM456 323.5a1.95 1.95 0 1 0 3.9 0a1.95 1.95 0 1 0 -3.9 0zM444.43 334.8a1.95 1.95 0 1 0 3.9 0a1.95 1.95 0 1 0 -3.9 0zM449.38 334.8a1.95 1.95 0 1 0 3.9 0a1.95 1.95 0 1 0 -3.9 0zM454.33 334.8a1.95 1.95 0 1 0 3.9 0a1.95 1.95 0 1 0 -3.9 0zM459.28 334.8a1.95 1.95 0 1 0 3.9 0a1.95 1.95 0 1 0 -3.9 0zM446.9 339.5a1.95 1.95 0 1 0 3.9 0a1.95 1.95 0 1 0 -3.9 0zM451.85 339.5a1.95 1.95 0 1 0 3.9 0a1.95 1.95 0 1 0 -3.9 0zM456.8 339.5a1.95 1.95 0 1 0 3.9 0a1.95 1.95 0 1 0 -3.9 0zM444.43 344a1.95 1.95 0 1 0 3.9 0a1.95 1.95 0 1 0 -3.9 0zM449.38 344a1.95 1.95 0 1 0 3.9 0a1.95 1.95 0 1 0 -3.9 0zM454.33 344a1.95 1.95 0 1 0 3.9 0a1.95 1.95 0 1 0 -3.9 0zM459.28 344a1.95 1.95 0 1 0 3.9 0a1.95 1.95 0 1 0 -3.9 0zM444.43 347.7a1.95 1.95 0 1 0 3.9 0a1.95 1.95 0 1 0 -3.9 0zM449.38 347.7a1.95 1.95 0 1 0 3.9 0a1.95 1.95 0 1 0 -3.9 0zM454.33 347.7a1.95 1.95 0 1 0 3.9 0a1.95 1.95 0 1 0 -3.9 0zM459.28 347.7a1.95 1.95 0 1 0 3.9 0a1.95 1.95 0 1 0 -3.9 0zM448.57 353.2a1.95 1.95 0 1 0 3.9 0a1.95 1.95 0 1 0 -3.9 0zM453.53 353.2a1.95 1.95 0 1 0 3.9 0a1.95 1.95 0 1 0 -3.9 0zM444.43 358.8a1.95 1.95 0 1 0 3.9 0a1.95 1.95 0 1 0 -3.9 0zM449.38 358.8a1.95 1.95 0 1 0 3.9 0a1.95 1.95 0 1 0 -3.9 0zM454.33 358.8a1.95 1.95 0 1 0 3.9 0a1.95 1.95 0 1 0 -3.9 0zM459.28 358.8a1.95 1.95 0 1 0 3.9 0a1.95 1.95 0 1 0 -3.9 0zM444.43 362.4a1.95 1.95 0 1 0 3.9 0a1.95 1.95 0 1 0 -3.9 0zM449.38 362.4a1.95 1.95 0 1 0 3.9 0a1.95 1.95 0 1 0 -3.9 0zM454.33 362.4a1.95 1.95 0 1 0 3.9 0a1.95 1.95 0 1 0 -3.9 0zM459.28 362.4a1.95 1.95 0 1 0 3.9 0a1.95 1.95 0 1 0 -3.9 0zM444.43 369.7a1.95 1.95 0 1 0 3.9 0a1.95 1.95 0 1 0 -3.9 0zM449.38 369.7a1.95 1.95 0 1 0 3.9 0a1.95 1.95 0 1 0 -3.9 0zM454.33 369.7a1.95 1.95 0 1 0 3.9 0a1.95 1.95 0 1 0 -3.9 0zM459.28 369.7a1.95 1.95 0 1 0 3.9 0a1.95 1.95 0 1 0 -3.9 0zM449.38 373.9a1.95 1.95 0 1 0 3.9 0a1.95 1.95 0 1 0 -3.9 0zM454.33 373.9a1.95 1.95 0 1 0 3.9 0a1.95 1.95 0 1 0 -3.9 0zM483.23 266.2a1.95 1.95 0 1 0 3.9 0a1.95 1.95 0 1 0 -3.9 0zM488.18 266.2a1.95 1.95 0 1 0 3.9 0a1.95 1.95 0 1 0 -3.9 0zM493.13 266.2a1.95 1.95 0 1 0 3.9 0a1.95 1.95 0 1 0 -3.9 0zM498.08 266.2a1.95 1.95 0 1 0 3.9 0a1.95 1.95 0 1 0 -3.9 0zM490.65 289.1a1.95 1.95 0 1 0 3.9 0a1.95 1.95 0 1 0 -3.9 0zM490.65 300.9a1.95 1.95 0 1 0 3.9 0a1.95 1.95 0 1 0 -3.9 0zM490.65 312a1.95 1.95 0 1 0 3.9 0a1.95 1.95 0 1 0 -3.9 0zM483.23 323.5a1.95 1.95 0 1 0 3.9 0a1.95 1.95 0 1 0 -3.9 0zM488.18 323.5a1.95 1.95 0 1 0 3.9 0a1.95 1.95 0 1 0 -3.9 0zM493.13 323.5a1.95 1.95 0 1 0 3.9 0a1.95 1.95 0 1 0 -3.9 0zM498.08 323.5a1.95 1.95 0 1 0 3.9 0a1.95 1.95 0 1 0 -3.9 0zM486.3 327.5a1.95 1.95 0 1 0 3.9 0a1.95 1.95 0 1 0 -3.9 0zM491.25 327.5a1.95 1.95 0 1 0 3.9 0a1.95 1.95 0 1 0 -3.9 0zM496.2 327.5a1.95 1.95 0 1 0 3.9 0a1.95 1.95 0 1 0 -3.9 0zM491.25 335.2a1.95 1.95 0 1 0 3.9 0a1.95 1.95 0 1 0 -3.9 0zM483.23 346.4a1.95 1.95 0 1 0 3.9 0a1.95 1.95 0 1 0 -3.9 0zM488.18 346.4a1.95 1.95 0 1 0 3.9 0a1.95 1.95 0 1 0 -3.9 0zM493.13 346.4a1.95 1.95 0 1 0 3.9 0a1.95 1.95 0 1 0 -3.9 0zM498.08 346.4a1.95 1.95 0 1 0 3.9 0a1.95 1.95 0 1 0 -3.9 0zM488.78 350.3a1.95 1.95 0 1 0 3.9 0a1.95 1.95 0 1 0 -3.9 0zM493.73 350.3a1.95 1.95 0 1 0 3.9 0a1.95 1.95 0 1 0 -3.9 0zM483.23 358.3a1.95 1.95 0 1 0 3.9 0a1.95 1.95 0 1 0 -3.9 0zM488.18 358.3a1.95 1.95 0 1 0 3.9 0a1.95 1.95 0 1 0 -3.9 0zM493.13 358.3a1.95 1.95 0 1 0 3.9 0a1.95 1.95 0 1 0 -3.9 0zM498.08 358.3a1.95 1.95 0 1 0 3.9 0a1.95 1.95 0 1 0 -3.9 0zM491.25 362.3a1.95 1.95 0 1 0 3.9 0a1.95 1.95 0 1 0 -3.9 0zM484.55 369.8a1.95 1.95 0 1 0 3.9 0a1.95 1.95 0 1 0 -3.9 0zM488.95 369.8a1.95 1.95 0 1 0 3.9 0a1.95 1.95 0 1 0 -3.9 0zM493.35 369.8a1.95 1.95 0 1 0 3.9 0a1.95 1.95 0 1 0 -3.9 0zM497.75 369.8a1.95 1.95 0 1 0 3.9 0a1.95 1.95 0 1 0 -3.9 0zM484.55 373.8a1.95 1.95 0 1 0 3.9 0a1.95 1.95 0 1 0 -3.9 0zM488.95 373.8a1.95 1.95 0 1 0 3.9 0a1.95 1.95 0 1 0 -3.9 0zM493.35 373.8a1.95 1.95 0 1 0 3.9 0a1.95 1.95 0 1 0 -3.9 0zM497.75 373.8a1.95 1.95 0 1 0 3.9 0a1.95 1.95 0 1 0 -3.9 0z"/>
</svg>
</body></html>
